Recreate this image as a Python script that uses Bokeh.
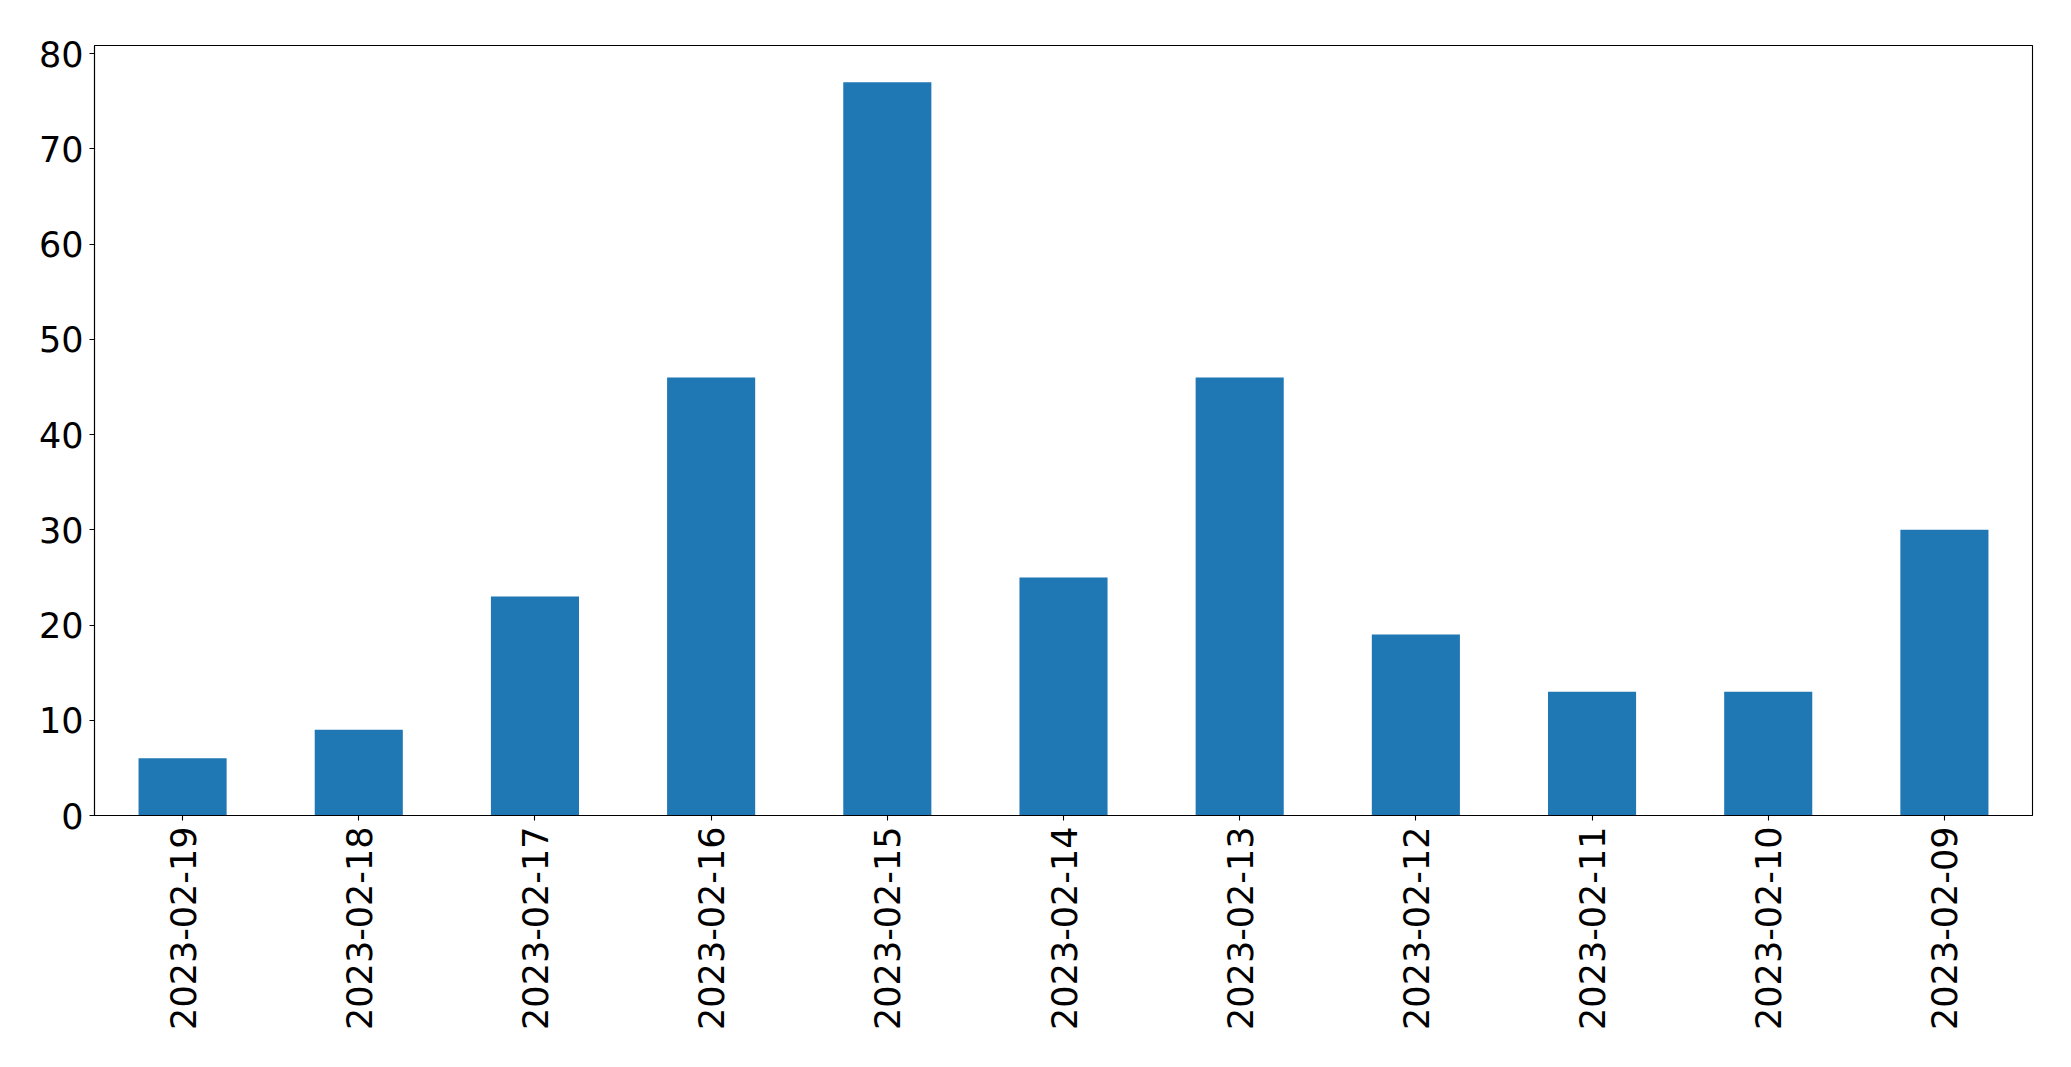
import math
from bokeh.plotting import figure
from bokeh.models import ColumnDataSource, FactorRange, Range1d, FixedTicker
from bokeh.embed import file_html
from bokeh.resources import INLINE

dates = ["2023-02-19", "2023-02-18", "2023-02-17", "2023-02-16", "2023-02-15",
         "2023-02-14", "2023-02-13", "2023-02-12", "2023-02-11", "2023-02-10",
         "2023-02-09"]
counts = [6, 9, 23, 46, 77, 25, 46, 19, 13, 13, 30]
y_ticks = [0, 10, 20, 30, 40, 50, 60, 70, 80]

source = ColumnDataSource(data=dict(date=dates, count=counts))

p = figure(
    width=2060, height=1060,
    x_range=FactorRange(*dates, range_padding=0),
    y_range=Range1d(0, max(counts) * 1.05),
    output_backend="svg", toolbar_location=None,
    min_border_left=94, min_border_top=45, min_border_bottom=245, min_border_right=28,
)
p.vbar(x="date", top="count", width=0.5, source=source,
       fill_color="#1f77b4", line_color=None)

p.xgrid.visible = False
p.ygrid.visible = False
p.outline_line_color = "black"
p.outline_line_width = 1.1
p.outline_line_alpha = 1.0

for ax in (p.xaxis[0], p.yaxis[0]):
    ax.axis_line_color = "black"
    ax.axis_line_width = 1.1
    ax.major_tick_line_color = "black"
    ax.major_tick_line_width = 1.1
    ax.major_tick_out = 5
    ax.major_tick_in = 0
    ax.minor_tick_line_color = None
    ax.major_label_text_font = "DejaVu Sans"
    ax.major_label_text_font_size = "35px"
    ax.major_label_text_color = "black"
    ax.major_label_standoff = 6

p.yaxis[0].ticker = FixedTicker(ticks=y_ticks)
p.xaxis[0].major_label_orientation = math.pi / 2

open("out.html", "w").write(file_html(p, INLINE))
